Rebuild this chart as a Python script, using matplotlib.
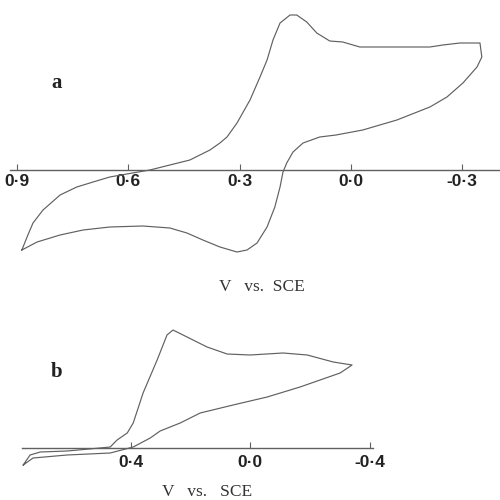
import matplotlib

matplotlib.use("Agg")
import matplotlib.pyplot as plt

# panel a: potential (V vs SCE) and current (arbitrary units), traced around the loop
voltage_a = [
    0.887, 0.873, 0.857, 0.830, 0.784, 0.739, 0.695, 0.650, 0.604, 0.542,
    0.488, 0.434, 0.380, 0.353, 0.334, 0.307, 0.272, 0.245, 0.226, 0.210,
    0.191, 0.164, 0.146, 0.119, 0.092, 0.057, 0.022, -0.024, -0.213, -0.248,
    -0.294, -0.348, -0.353,
    -0.340, -0.302, -0.259, -0.213, -0.124, -0.032, 0.040, 0.084, 0.129,
    0.156, 0.173, 0.183, 0.191, 0.205, 0.226, 0.253, 0.280, 0.307, 0.353,
    0.399, 0.442, 0.488, 0.561, 0.650, 0.722, 0.784, 0.846, 0.887,
]
current_a = [
    -0.80, -0.67, -0.53, -0.40, -0.25, -0.17, -0.12, -0.07, -0.04, 0.00,
    0.05, 0.10, 0.20, 0.27, 0.33, 0.47, 0.70, 0.93, 1.10, 1.30,
    1.47, 1.55, 1.55, 1.48, 1.37, 1.29, 1.28, 1.23, 1.23, 1.25,
    1.27, 1.27, 1.13,
    1.03, 0.87, 0.73, 0.63, 0.50, 0.40, 0.35, 0.33, 0.27,
    0.18, 0.07, -0.02, -0.17, -0.37, -0.57, -0.73, -0.80, -0.82, -0.77,
    -0.70, -0.63, -0.58, -0.56, -0.57, -0.60, -0.65, -0.72, -0.80,
]
ticks_a = [0.9, 0.6, 0.3, 0.0, -0.3]
tick_labels_a = ["0·9", "0·6", "0·3", "0·0", "-0·3"]

# panel b
voltage_b = [
    0.759, 0.736, 0.702, 0.612, 0.502, 0.468, 0.445, 0.411, 0.391, 0.358,
    0.311, 0.278, 0.258, 0.211, 0.144, 0.077, 0.000, -0.110, -0.191, -0.278,
    -0.341,
    -0.301, -0.167, -0.057, 0.057, 0.167, 0.234, 0.301, 0.334, 0.391,
    0.468, 0.612, 0.726, 0.759,
]
current_b = [
    -0.17, -0.07, -0.04, -0.03, 0.00, 0.01, 0.08, 0.15, 0.25, 0.55,
    0.88, 1.13, 1.18, 1.11, 1.01, 0.94, 0.93, 0.95, 0.93, 0.86,
    0.83,
    0.75, 0.61, 0.51, 0.43, 0.35, 0.25, 0.17, 0.10, 0.01,
    -0.05, -0.07, -0.10, -0.17,
]
ticks_b = [0.4, 0.0, -0.4]
tick_labels_b = ["0·4", "0·0", "-0·4"]

LINE_COLOR = "#606060"
TICK_FONT = dict(family="Liberation Sans", weight="bold", size=12.5)
SERIF = "Liberation Serif"


def style_axis(ax, ticks, labels, pad):
    for side in ("left", "right", "top"):
        ax.spines[side].set_visible(False)
    ax.spines["bottom"].set_position(("data", 0))
    ax.spines["bottom"].set_color(LINE_COLOR)
    ax.spines["bottom"].set_linewidth(1.0)
    ax.set_yticks([])
    ax.set_xticks(ticks)
    ax.set_xticklabels(labels, fontdict=TICK_FONT, color="#222222")
    ax.tick_params(axis="x", direction="in", length=4, width=0.8,
                   color=LINE_COLOR, pad=pad)
    ax.patch.set_alpha(0)


fig = plt.figure(figsize=(5, 5), dpi=100)

ax_a = fig.add_axes([0.02, 0.48, 0.98, 0.52])
ax_a.plot(voltage_a, current_a, color=LINE_COLOR, linewidth=0.85)
ax_a.set_xlim(0.919, -0.402)
ax_a.set_ylim(-0.90, 1.70)
style_axis(ax_a, ticks_a, tick_labels_a, pad=3)

ax_b = fig.add_axes([0.044, 0.06, 0.702, 0.30])
ax_b.plot(voltage_b, current_b, color=LINE_COLOR, linewidth=0.85)
ax_b.set_xlim(0.763, -0.411)
ax_b.set_ylim(-0.22, 1.28)
style_axis(ax_b, ticks_b, tick_labels_b, pad=5)

fig.text(0.114, 0.834, "a", family=SERIF, weight="bold", size=15,
         ha="center", va="center", color="#222222")
fig.text(0.114, 0.256, "b", family=SERIF, weight="bold", size=15,
         ha="center", va="center", color="#222222")
fig.text(0.524, 0.426, "V   vs.  SCE", family=SERIF, size=12.5,
         ha="center", va="center", color="#333333")
fig.text(0.414, 0.016, "V   vs.   SCE", family=SERIF, size=12.5,
         ha="center", va="center", color="#333333")

fig.savefig("out.png", dpi=100, facecolor="white")
